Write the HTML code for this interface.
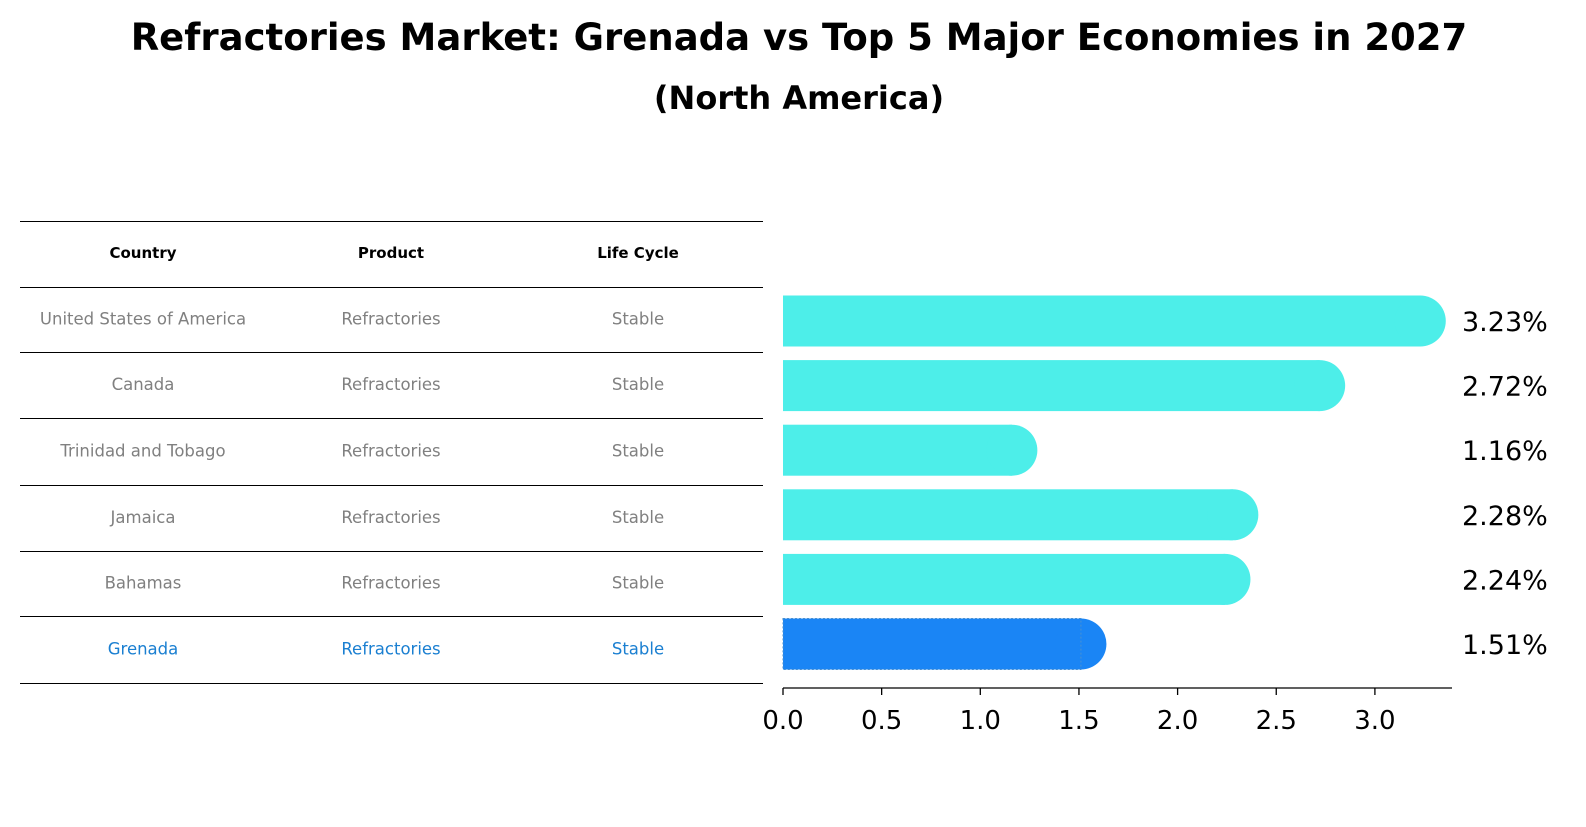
<!DOCTYPE html>
<html><head><meta charset="utf-8"><style>
body{margin:0;background:#fff;width:1586px;height:823px;overflow:hidden;font-family:"DejaVu Sans","Liberation Sans",sans-serif}
</style></head><body>
<svg width="1586" height="823" xmlns="http://www.w3.org/2000/svg">
<text x="799" y="50" text-anchor="middle" font-size="37" font-weight="bold">Refractories Market: Grenada vs Top 5 Major Economies in 2027</text>
<text x="799" y="109" text-anchor="middle" font-size="32" font-weight="bold">(North America)</text>
<g id="table"></g>
<g id="bars"></g>
</svg>
<script>
const countries=["United States of America","Canada","Trinidad and Tobago","Jamaica","Bahamas","Grenada"];
const products=["Refractories","Refractories","Refractories","Refractories","Refractories","Refractories"];
const lifecycle=["Stable","Stable","Stable","Stable","Stable","Stable"];
const values=[3.23,2.72,1.16,2.28,2.24,1.51];
const ticks=[0.0,0.5,1.0,1.5,2.0,2.5,3.0];
const NS="http://www.w3.org/2000/svg";
function mk(t,a,p){const e=document.createElementNS(NS,t);for(const k in a)e.setAttribute(k,a[k]);p.appendChild(e);return e;}
const tbl=document.getElementById('table');
const lineY=[221,287,352,418,485,551,616,683];
lineY.forEach(y=>{const l=mk('line',{x1:20,x2:763,y1:y+0.5,y2:y+0.5,stroke:'#000','stroke-width':1},tbl);

});
const colX=[143,391,638];
["Country","Product","Life Cycle"].forEach((h,i)=>{const t=mk('text',{x:colX[i],y:258,'text-anchor':'middle','font-size':15,'font-weight':'bold'},tbl);t.textContent=h;

});
countries.forEach((c,r)=>{const y=(lineY[r+1]+lineY[r+2])/2+5;const col=r===countries.length-1?'#1a7fd1':'#808080';
[c,products[r],lifecycle[r]].forEach((v,i)=>{const t=mk('text',{x:colX[i],y:y,'text-anchor':'middle','font-size':16.5,fill:col},tbl);t.textContent=v;

});});
const bars=document.getElementById('bars');
const x0=783,ppu=197.3;const X=v=>x0+v*ppu;
const Y=i=>321+i*64.6;const bh=51;
values.forEach((v,i)=>{const last=i===values.length-1;const col=last?'#1a85f5':'#4deee9';
const y=Y(i);
const r=mk('rect',{x:x0,y:y-bh/2,width:X(v)-x0,height:bh,fill:col},bars);


const c=mk('circle',{cx:X(v),cy:y,r:bh/2,fill:col},bars);


if(last){const o=mk('rect',{x:x0,y:y-bh/2,width:X(v)-x0,height:bh,fill:'none',stroke:'#4a90d0','stroke-width':1,'stroke-dasharray':'2,2'},bars);

}
const t=mk('text',{x:1462,y:y+10,'font-size':27},bars);t.textContent=v.toFixed(2)+'%';

});
const ax=mk('line',{x1:x0,x2:1452,y1:688,y2:688,stroke:'#000','stroke-width':1.3},bars);


ticks.forEach(v=>{const l=mk('line',{x1:X(v),x2:X(v),y1:688,y2:695,stroke:'#000','stroke-width':1.3},bars);


const t=mk('text',{x:X(v),y:729,'text-anchor':'middle','font-size':26},bars);t.textContent=v.toFixed(1);

});
</script>
</body></html>
